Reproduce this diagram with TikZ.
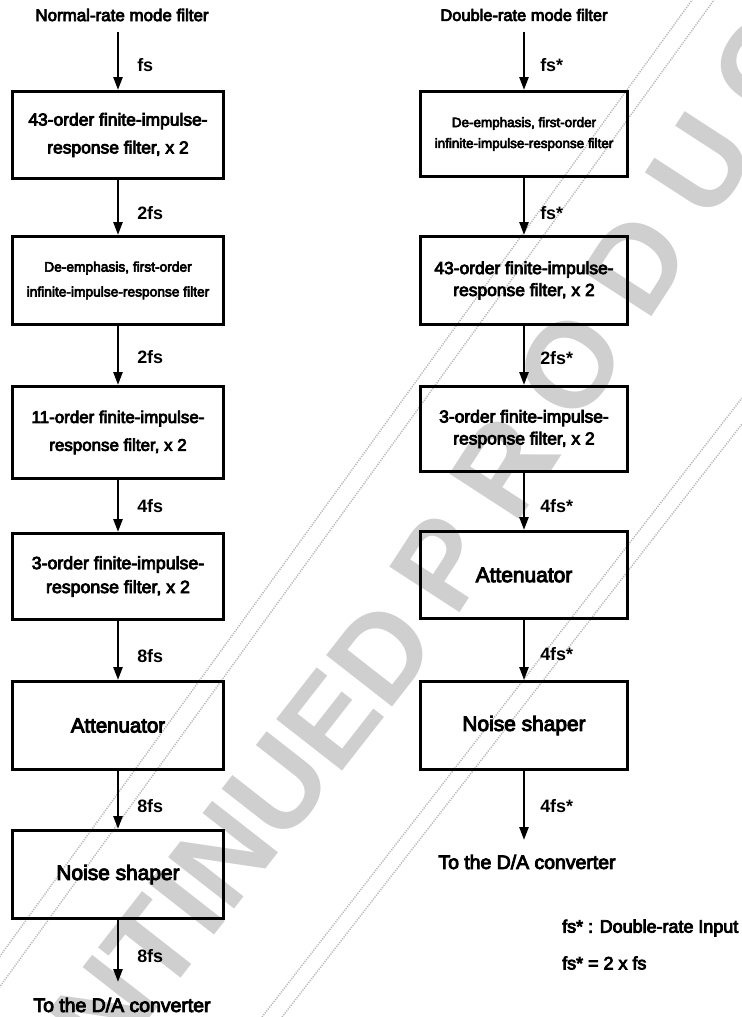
\documentclass[tikz,border=0pt]{standalone}
\usepackage{graphicx}
\usepackage{fontspec}
\setmainfont{Liberation Sans}
\newfontfamily\bodyfont{Liberation Sans}[UprightFeatures={FakeBold=4.5}]
\usetikzlibrary{arrows.meta}
\begin{document}
\begin{tikzpicture}[x=1bp,y=-1bp,
  box/.style={draw, line width=3bp, inner sep=0pt, align=center, anchor=north},
  lbox/.style={box, minimum width=210bp},
  rbox/.style={box, minimum width=207bp},
  arr/.style={line width=2.5bp, -{Triangle[length=13bp,width=9bp]}},
  rate/.style={font=\bfseries\fontsize{18}{20}\selectfont, anchor=west, inner sep=0pt},
  ttl/.style={inner sep=0pt},
  wm/.style={font=\bfseries\fontsize{122}{122}\selectfont, text=gray!38, inner sep=0pt},
  wml/.style={gray!55, line width=1.5bp, dash pattern=on 1.2bp off 1.2bp}]
\useasboundingbox (0,0) rectangle (742,1017);
% watermark
\begin{scope}
\clip (0,0) rectangle (742,1017);
\node[wm, rotate=52, anchor=east] (wm1) at (409,618) {DISCONTINUED};
\node[wm, rotate=57, anchor=west] (wm2) at (420,597) {P\kern30bp R\kern30bp O\kern30bp D\kern30bp U\kern30bp C\kern30bp T};
\draw[wml] (-44,1017) -- (692,0);
\draw[wml] (-22,1017) -- (714,0);
\draw[wml] (262,1017) -- (742,398);
\draw[wml] (282,1017) -- (742,424);
\end{scope}
% left column
\node[ttl, font=\bodyfont\fontsize{17}{20}\selectfont] (lt) at (122,15) {Normal-rate mode filter};
\coordinate (lin) at (118,32);
\node[lbox, minimum height=87bp, font=\bodyfont\fontsize{17.5}{28}\selectfont] (L1) at (118,90) {43-order finite-impulse-\\response filter, x 2};
\node[lbox, minimum height=88bp, font=\bodyfont\fontsize{13.8}{25}\selectfont] (L2) at (118,235) {De-emphasis, first-order\\infinite-impulse-response filter};
\node[lbox, minimum height=92bp, font=\bodyfont\fontsize{17}{28}\selectfont] (L3) at (118,385) {11-order finite-impulse-\\response filter, x 2};
\node[lbox, minimum height=86bp, font=\bodyfont\fontsize{17.8}{24}\selectfont] (L4) at (118,532) {3-order finite-impulse-\\response filter, x 2};
\node[lbox, minimum height=88bp, font=\bodyfont\fontsize{20.5}{24}\selectfont] (L5) at (118,680) {Attenuator};
\node[lbox, minimum height=88bp, font=\bodyfont\fontsize{21}{24}\selectfont] (L6) at (118,829) {Noise shaper};
\coordinate (lout) at (118,982);
\node[ttl, font=\bodyfont\fontsize{19.5}{22}\selectfont] (ld) at (122,1005) {To the D/A converter};
\draw[arr] (lin) -- node[rate, pos=0.57, xshift=18bp] (la0) {fs} (L1.north);
\draw[arr] (L1.south) -- node[rate, pos=0.6, xshift=18bp] (la1) {2fs} (L2.north);
\draw[arr] (L2.south) -- node[rate, pos=0.52, xshift=18bp] (la2) {2fs} (L3.north);
\draw[arr] (L3.south) -- node[rate, pos=0.51, xshift=18bp] (la3) {4fs} (L4.north);
\draw[arr] (L4.south) -- node[rate, pos=0.6, xshift=18bp] (la4) {8fs} (L5.north);
\draw[arr] (L5.south) -- node[rate, pos=0.6, xshift=18bp] (la5) {8fs} (L6.north);
\draw[arr] (L6.south) -- node[rate, pos=0.58, xshift=18bp] (la6) {8fs} (lout);
% right column
\node[ttl, font=\bodyfont\fontsize{16.5}{20}\selectfont] (rt) at (524,15) {Double-rate mode filter};
\coordinate (rin) at (524,32);
\node[rbox, minimum height=85bp, font=\bodyfont\fontsize{13.5}{21}\selectfont] (R1) at (524,90) {De-emphasis, first-order\\infinite-impulse-response filter};
\node[rbox, minimum height=88bp, font=\bodyfont\fontsize{17.5}{22}\selectfont] (R2) at (524,235) {43-order finite-impulse-\\response filter, x 2};
\node[rbox, minimum height=85bp, font=\bodyfont\fontsize{17.5}{22}\selectfont] (R3) at (524,385) {3-order finite-impulse-\\response filter, x 2};
\node[rbox, minimum height=87bp, font=\bodyfont\fontsize{21}{24}\selectfont] (R4) at (524,530) {Attenuator};
\node[rbox, minimum height=88bp, font=\bodyfont\fontsize{21}{24}\selectfont] (R5) at (524,680) {Noise shaper};
\coordinate (rout) at (524,840);
\node[ttl, font=\bodyfont\fontsize{19.5}{22}\selectfont] (rd) at (527,862) {To the D/A converter};
\draw[arr] (rin) -- node[rate, pos=0.57, xshift=15bp] (ra0) {fs*} (R1.north);
\draw[arr] (R1.south) -- node[rate, pos=0.62, xshift=15bp] (ra1) {fs*} (R2.north);
\draw[arr] (R2.south) -- node[rate, pos=0.55, xshift=15bp] (ra2) {2fs*} (R3.north);
\draw[arr] (R3.south) -- node[rate, pos=0.58, xshift=15bp] (ra3) {4fs*} (R4.north);
\draw[arr] (R4.south) -- node[rate, pos=0.57, xshift=15bp] (ra4) {4fs*} (R5.north);
\draw[arr] (R5.south) -- node[rate, pos=0.51, xshift=15bp] (ra5) {4fs*} (rout);
% legend
\node[ttl, anchor=west, font=\bodyfont\fontsize{18}{20}\selectfont] (lg1) at (562,928) {fs* : Double-rate Input};
\node[ttl, anchor=west, font=\bodyfont\fontsize{18}{20}\selectfont] (lg2) at (562,963) {fs* = 2 x fs};
\end{tikzpicture}
\end{document}
